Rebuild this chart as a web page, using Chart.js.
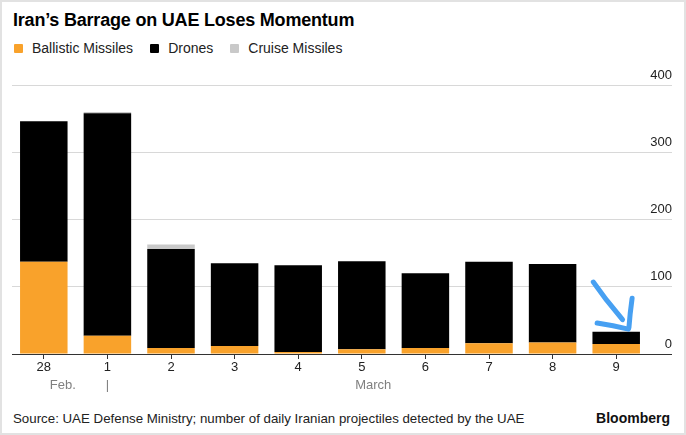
<!DOCTYPE html>
<html>
<head>
<meta charset="utf-8">
<script src="https://cdn.jsdelivr.net/npm/chart.js@4.4.1/dist/chart.umd.min.js"></script>
<style>
  html, body { margin: 0; padding: 0; background: #fff; }
  #wrap { position: relative; width: 686px; height: 435px; overflow: hidden; font-family: "Liberation Sans", Arial, sans-serif; background: #fff; }
  #frame { position: absolute; left: 0; top: 0; width: 686px; height: 435px; box-sizing: border-box; border: 2px solid #e2e2e2; pointer-events: none; }
  #title { position: absolute; left: 13px; top: 10px; font-weight: bold; font-size: 18px; color: #000; letter-spacing: -0.2px; }
  #legend { position: absolute; left: 14px; top: 40px; display: flex; font-size: 14px; color: #222; }
  .item { display: flex; align-items: center; margin-right: 17px; }
  .box { width: 9px; height: 9px; border-radius: 1px; margin-right: 9px; }
  #chart { position: absolute; left: 0; top: 60px; }
  #source { position: absolute; left: 13px; top: 411px; font-size: 13.3px; color: #222; }
  #brand { position: absolute; right: 16px; top: 410px; font-size: 14px; font-weight: bold; color: #111; }
</style>
</head>
<body>
<div id="wrap">
  <div id="title">Iran’s Barrage on UAE Loses Momentum</div>
  <div id="legend"></div>
  <canvas id="chart" width="686" height="345"></canvas>
  <div id="source">Source: UAE Defense Ministry; number of daily Iranian projectiles detected by the UAE</div>
  <div id="brand">Bloomberg</div>
  <div id="frame"></div>
</div>
<script>
// dias (28 de fev. até 9 de março)
const dias = ['28', '1', '2', '3', '4', '5', '6', '7', '8', '9'];
const balisticos = [137, 27, 9, 12, 3, 7, 9, 16, 17, 15];
const drones = [209, 331, 147, 123, 129, 131, 111, 121, 117, 18];
const cruzeiro = [0, 2, 7, 0, 0, 0, 0, 0, 0, 0];
const yTicks = [0, 100, 200, 300, 400];

// rótulos de mês na segunda linha do eixo x
const meses = ['Feb.', '|', 'March'];
const mesesPos = [0.3, 1, 5.18];

// seta azul desenhada à mão (em coordenadas dos dados)
const setaTracos = [
    [[8.64, 107], [8.85, 80], [9.1, 51]],
    [[8.70, 46], [8.95, 42], [9.19, 37]],
    [[9.25, 83], [9.22, 60], [9.2, 39]]
];

const series = [
    { label: 'Ballistic Missiles', values: balisticos, color: '#f9a22b' },
    { label: 'Drones', values: drones, color: '#000000' },
    { label: 'Cruise Missiles', values: cruzeiro, color: '#c9c9c9' }
];

// legenda em html
const legendEl = document.getElementById('legend');
series.forEach(s => {
    const item = document.createElement('div');
    item.className = 'item';
    item.innerHTML = `<span class="box" style="background:${s.color}"></span>${s.label}`;
    legendEl.appendChild(item);
});

const setaPlugin = {
    id: 'seta',
    afterDatasetsDraw(chart) {
        const { ctx, scales: { x, y } } = chart;
        ctx.save();
        ctx.strokeStyle = '#47a0f2';
        ctx.lineWidth = 5;
        ctx.lineCap = 'round';
        ctx.lineJoin = 'round';
        setaTracos.forEach(traco => {
            ctx.beginPath();
            traco.forEach(([vx, vy], i) => {
                const px = x.getPixelForValue(vx);
                const py = y.getPixelForValue(vy);
                if (i === 0) ctx.moveTo(px, py); else ctx.lineTo(px, py);
            });
            ctx.stroke();
        });
        ctx.restore();
    }
};

const fonte = { family: '"Liberation Sans", Arial, sans-serif', size: 13 };

const config = {
    type: 'bar',
    data: {
        datasets: series.map(s => ({
            label: s.label,
            data: s.values.map((v, i) => ({ x: i, y: v })),
            backgroundColor: s.color,
            borderWidth: 0,
            categoryPercentage: 1,
            barPercentage: 0.747
        }))
    },
    options: {
        responsive: false,
        animation: false,
        layout: { padding: { top: 25, left: 12, right: 14, bottom: 10 } },
        plugins: {
            legend: { display: false },
            tooltip: { enabled: false }
        },
        scales: {
            x: {
                type: 'linear',
                stacked: true,
                offset: false,
                min: -0.5,
                max: 9.5,
                afterBuildTicks: scale => { scale.ticks = dias.map((_, i) => ({ value: i })); },
                afterFit: scale => { scale.height = 21; },
                ticks: {
                    callback: v => dias[v],
                    color: '#222',
                    font: fonte,
                    padding: 1,
                    autoSkip: false,
                    maxRotation: 0
                },
                grid: { drawOnChartArea: false, offset: false, tickLength: 5, color: '#333' },
                border: { display: false }
            },
            x2: {
                type: 'linear',
                position: 'bottom',
                weight: 1,
                offset: false,
                min: -0.5,
                max: 9.5,
                afterBuildTicks: scale => { scale.ticks = mesesPos.map(p => ({ value: p })); },
                afterFit: scale => { scale.height = 20; },
                ticks: {
                    callback: (v, i) => meses[i],
                    color: '#808080',
                    font: fonte,
                    padding: 3,
                    autoSkip: false,
                    maxRotation: 0
                },
                grid: { display: false, drawTicks: false },
                border: { display: false }
            },
            y: {
                position: 'right',
                stacked: true,
                min: 0,
                max: 400,
                afterBuildTicks: scale => { scale.ticks = yTicks.map(v => ({ value: v })); },
                afterFit: scale => {
                    scale.width = 24;
                    scale.paddingTop = 0;
                    scale.paddingBottom = 0;
                },
                ticks: {
                    mirror: true,
                    padding: 24,
                    labelOffset: -10,
                    color: '#222',
                    font: fonte
                },
                grid: {
                    tickLength: 24,
                    color: ctx => (ctx.tick && ctx.tick.value === 0) ? '#333' : '#d8d8d8',
                    lineWidth: 1
                },
                border: { display: false }
            }
        }
    },
    plugins: [setaPlugin]
};

const chart = new Chart(document.getElementById('chart'), config);
</script>
</body>
</html>
